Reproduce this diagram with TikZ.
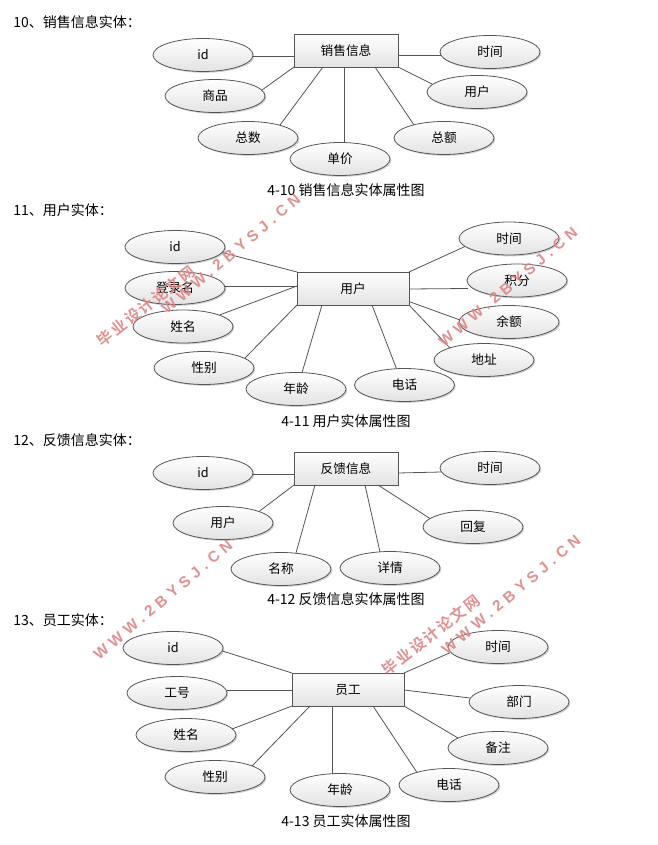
\documentclass[tikz,border=0pt]{standalone}
\usepackage{fontspec}
\setmainfont{Noto Sans CJK SC}
\newfontfamily\wmlatin[LetterSpace=32]{Liberation Sans Bold}
\newfontfamily\wmcjk[LetterSpace=12]{Noto Sans CJK SC Bold}
\usetikzlibrary{shapes.geometric,shadows}
\definecolor{edgegray}{HTML}{555555}
\definecolor{wmred}{HTML}{DE8585}
\tikzset{
  attr/.style={ellipse,draw=edgegray,line width=.6pt,inner sep=0pt,minimum width=75pt,minimum height=24.75pt,
    top color=white,bottom color=black!11,font=\fontsize{9.5}{11}\selectfont,
    drop shadow={shadow xshift=1pt,shadow yshift=-1pt,opacity=.18,fill=black}},
  entA/.style={rectangle,draw=edgegray,line width=.7pt,inner sep=0pt,minimum width=78pt,minimum height=24.75pt,
    top color=white,bottom color=black!11,font=\fontsize{9.5}{11}\selectfont,
    drop shadow={shadow xshift=1pt,shadow yshift=-1pt,opacity=.18,fill=black}},
  entB/.style={entA,minimum width=84pt},
  heading/.style={anchor=west,inner sep=0pt,font=\fontsize{10.5}{12}\selectfont},
  caption/.style={inner sep=0pt,font=\fontsize{10.5}{12}\selectfont},
  link/.style={draw=edgegray,line width=.6pt},
  wmA/.style={text=wmred,inner sep=0pt,opacity=.9,font=\fontsize{11.5}{12}\wmlatin},
  wmB/.style={text=wmred,inner sep=0pt,opacity=.9,font=\fontsize{11.5}{12}\wmcjk}
}
\newcommand{\conn}[6]{\draw[link] ([shift={(#2,#3)}]#1.center) -- ([shift={(#5,#6)}]#4.center);}
\begin{document}
\begin{tikzpicture}[x=.75pt,y=-.75pt]
\useasboundingbox (0,0) rectangle (657,845);
% headings and captions
\node[heading] (h1) at (13,22) {10、销售信息实体：};
\node[heading] (h2) at (13,210) {11、用户实体：};
\node[heading] (h3) at (13,440) {12、反馈信息实体：};
\node[heading] (h4) at (13,620) {13、员工实体：};
\node[caption] (c1) at (346,190) {4-10 销售信息实体属性图};
\node[caption] (c2) at (346,421) {4-11 用户实体属性图};
\node[caption] (c3) at (346,599) {4-12 反馈信息实体属性图};
\node[caption] (c4) at (346,821) {4-13 员工实体属性图};
% section 1
\node[entA] (A) at (346,50.5) {销售信息};
\node[attr] (A1) at (203,55) {id};
\node[attr] (A2) at (215,96) {商品};
\node[attr] (A3) at (248,138) {总数};
\node[attr] (A4) at (340,159) {单价};
\node[attr] (A5) at (444,138) {总额};
\node[attr] (A6) at (477,92) {用户};
\node[attr] (A7) at (490,52) {时间};
\conn{A1}{50}{1}{A}{-52}{5.5}
\conn{A2}{47}{-6}{A}{-52}{16.5}
\conn{A3}{32}{-13}{A}{-23}{16.5}
\conn{A4}{4}{-16.5}{A}{-2}{16.5}
\conn{A5}{-30}{-13}{A}{29}{16.5}
\conn{A6}{-45}{-8}{A}{52}{16.5}
\conn{A7}{-49}{3}{A}{52}{4.5}
% section 2
\node[entB] (B) at (353,288.5) {用户};
\node[attr] (B1) at (175,247) {id};
\node[attr] (B2) at (175,288) {登录名};
\node[attr] (B3) at (183,326.5) {姓名};
\node[attr] (B4) at (204,368) {性别};
\node[attr] (B5) at (296,389) {年龄};
\node[attr] (B6) at (404.5,385) {电话};
\node[attr] (B7) at (484,360) {地址};
\node[attr] (B8) at (509,322) {余额};
\node[attr] (B9) at (517,280.5) {积分};
\node[attr] (B10) at (509,238.5) {时间};
\conn{B1}{47}{5.5}{B}{-56}{-16.5}
\conn{B2}{50}{-2}{B}{-56}{-2.5}
\conn{B3}{37}{-11.7}{B}{-56}{-2.5}
\conn{B4}{41}{-10}{B}{-56}{16.5}
\conn{B5}{6}{-16.3}{B}{-31}{16.5}
\conn{B6}{-8}{-16.3}{B}{19}{16.5}
\conn{B7}{-34}{-12}{B}{56}{16.5}
\conn{B8}{-49}{-2}{B}{56}{13}
\conn{B9}{-49}{8}{B}{56}{.5}
\conn{B10}{-44}{8}{B}{56}{-16.5}
% section 3
\node[entA] (C) at (346,468.5) {反馈信息};
\node[attr] (C1) at (203,473) {id};
\node[attr] (C2) at (223,523) {用户};
\node[attr] (C3) at (281,569) {名称};
\node[attr] (C4) at (390,568) {详情};
\node[attr] (C5) at (473,527) {回复};
\node[attr] (C6) at (490,468) {时间};
\conn{C1}{50}{1}{C}{-52}{5.5}
\conn{C2}{36}{-11.5}{C}{-52}{16.5}
\conn{C3}{15}{-16}{C}{-31}{16.5}
\conn{C4}{-10}{-16}{C}{19}{16.5}
\conn{C5}{-43}{-8.5}{C}{32}{16.5}
\conn{C6}{-49}{4}{C}{52}{4.5}
% section 4
\node[entB] (D) at (348,689.5) {员工};
\node[attr] (D1) at (173,648) {id};
\node[attr] (D2) at (177,693) {工号};
\node[attr] (D3) at (186,735) {姓名};
\node[attr] (D4) at (215,777) {性别};
\node[attr] (D5) at (340,790) {年龄};
\node[attr] (D6) at (449,785) {电话};
\node[attr] (D7) at (498,748) {备注};
\node[attr] (D8) at (519,702) {部门};
\node[attr] (D9) at (498,647) {时间};
\conn{D1}{49.5}{3}{D}{-56}{-16.5}
\conn{D2}{50}{-3}{D}{-56}{.5}
\conn{D3}{46}{-6}{D}{-56}{16.5}
\conn{D4}{37}{-11}{D}{-38}{16.5}
\conn{D5}{-8}{-16.5}{D}{-16}{16.5}
\conn{D6}{-32}{-12.5}{D}{25}{16.5}
\conn{D7}{-40}{-10}{D}{56}{16.5}
\conn{D8}{-49}{-4}{D}{56}{.5}
\conn{D9}{-48}{5.7}{D}{56}{-16.5}
% watermarks
\node[wmB,rotate=38] (w1) at (146,306) {毕业设计论文网};
\node[wmA,rotate=40] (w2) at (231,254) {WWW.2BYSJ.CN};
\node[wmA,rotate=40] (w3) at (508,287) {WWW.2BYSJ.CN};
\node[wmA,rotate=40] (w4) at (163,600) {WWW.2BYSJ.CN};
\node[wmB,rotate=38] (w5) at (431,635) {毕业设计论文网};
\node[wmA,rotate=40] (w6) at (511,595) {WWW.2BYSJ.CN};
\end{tikzpicture}
\end{document}
